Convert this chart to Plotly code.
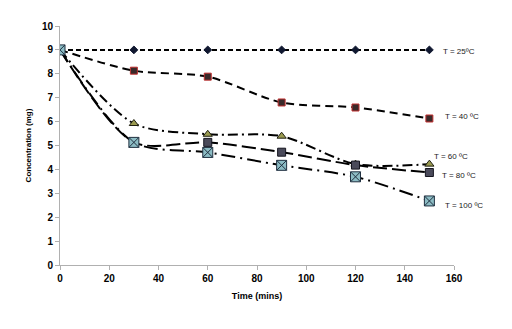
import plotly.graph_objects as go

time = [0, 30, 60, 90, 120, 150]
c25 = [9.0, 9.0, 9.0, 9.0, 9.0, 9.0]
c40 = [9.0, 8.13, 7.88, 6.8, 6.59, 6.13]
c60 = [9.0, 5.92, 5.47, 5.39, 4.22, 4.22]
c80 = [9.0, 5.13, 5.13, 4.72, 4.18, 3.87]
c100 = [9.0, 5.13, 4.71, 4.17, 3.69, 2.68]
labels = ["T = 25ºC", "T = 40 ºC", "T = 60 ºC", "T = 80 ºC", "T = 100 ºC"]
label_x = [154.7, 155.5, 151.1, 154.3, 155.5]
label_y = [8.95, 6.23, 4.52, 3.76, 2.5]

fig = go.Figure()
series = [
    (c25, "5px,3px", "diamond", 6, "#101830", "#101830", "linear"),
    (c40, "8px,5px", "square", 7, "#3a2a2a", "#c03030", "spline"),
    (c60, "10px,4px,2px,4px", "triangle-up", 8, "#9a9a50", "#202010", "spline"),
    (c80, "14px,5px", "square", 8, "#4a4a5a", "#15151f", "spline"),
    (c100, "14px,5px,2px,5px", "square-x", 10, "#8cbcc4", "#203040", "spline"),
]
for ys, dash, sym, sz, fc, lc, shape in series:
    fig.add_trace(go.Scatter(
        x=time, y=ys, mode="lines+markers",
        line=dict(color="black", width=2, dash=dash, shape=shape, smoothing=0.8),
        marker=dict(symbol=sym, size=sz, color=fc, line=dict(color=lc, width=1)),
        showlegend=False,
    ))

for t, lx, ly in zip(labels, label_x, label_y):
    fig.add_annotation(x=lx, y=ly, text=t, showarrow=False, xanchor="left",
                       font=dict(family="Liberation Sans", size=8, color="#222"))

axfont = dict(family="Liberation Sans", size=10, color="black", weight="bold")
fig.update_layout(
    width=512, height=329,
    margin=dict(l=60, r=58, t=26, b=64),
    plot_bgcolor="white", paper_bgcolor="white",
    xaxis=dict(range=[0, 160], dtick=20, showgrid=False, zeroline=False,
               showline=True, linecolor="#b0b0b0", linewidth=1,
               ticks="outside", ticklen=4, tickcolor="#b0b0b0", tickfont=axfont,
               title=dict(text="Time (mins)", font=dict(family="Liberation Sans", size=9, color="black", weight="bold"), standoff=9)),
    yaxis=dict(range=[0, 10], dtick=1, showgrid=False, zeroline=False,
               showline=True, linecolor="#b0b0b0", linewidth=1,
               ticks="outside", ticklen=4, tickcolor="#b0b0b0", tickfont=axfont,
               title=dict(text="Concentration (mg)", font=dict(family="Liberation Sans", size=8, color="black", weight="bold"), standoff=9)),
)
fig.write_html("out.html")
